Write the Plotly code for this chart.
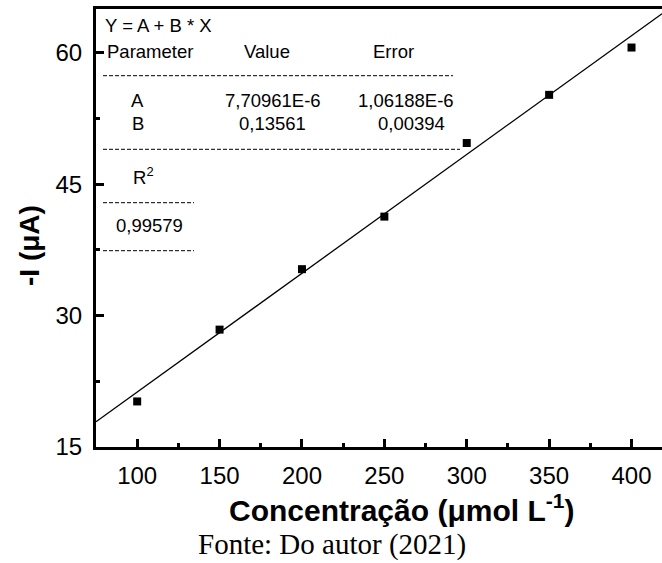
import numpy as np
import plotly.graph_objects as go

# Measured current vs. concentration
concentration = [100, 150, 200, 250, 300, 350, 400]
current = [20.2, 28.4, 35.3, 41.3, 49.7, 55.2, 60.6]

# Linear fit Y = A + B * X  (A reported in A, plotted in µA)
fit_A = 7.70961e-6
fit_B = 0.13561
fit_A_err = 1.06188e-6
fit_B_err = 0.00394
r_squared = 0.99579

x_range = [75, 418.5]
y_range = [15, 65]

FIG_W, FIG_H = 662, 563
L, R, T, B = 96, 0, 9, 116
plot_w = FIG_W - L - R
plot_h = FIG_H - T - B


def px(x):
    return (x - L) / plot_w


def py(y):
    return (FIG_H - B - y) / plot_h


def br(v):
    return f"{v:.5f}".replace(".", ",")


def sci(v):
    m, e = f"{v:.5E}".split("E")
    return f"{m.replace('.', ',')}E{int(e)}"


fit_x = np.linspace(x_range[0], x_range[1], 50)
fit_y = fit_A * 1e6 + fit_B * fit_x

fig = go.Figure()
fig.add_trace(go.Scatter(x=fit_x, y=fit_y, mode="lines",
                         line=dict(color="black", width=1.3),
                         showlegend=False, hoverinfo="skip"))
fig.add_trace(go.Scatter(x=concentration, y=current, mode="markers",
                         marker=dict(symbol="square", size=8, color="black"),
                         showlegend=False))

FONT = "Liberation Sans, Arial, sans-serif"
TFS = 18.5

# Fit parameter table drawn inside the plot
table_text = [
    ("Y = A + B * X", 103, 26, "left"),
    ("Parameter", 150, 51, "center"),
    ("Value", 267, 51, "center"),
    ("Error", 393, 51, "center"),
    ("A", 137.5, 100.5, "center"),
    (sci(fit_A), 272.5, 100.5, "center"),
    (sci(fit_A_err), 405.8, 100.5, "center"),
    ("B", 137.5, 123.3, "center"),
    (br(fit_B), 272.7, 123.3, "center"),
    (br(fit_B_err), 411.7, 123.3, "center"),
    ("R<sup>2</sup>", 131, 176, "left"),
    (br(r_squared), 149.3, 225.7, "center"),
]
annotations = []
for txt, x, y, anchor in table_text:
    annotations.append(dict(text=txt, x=px(x), y=py(y), xref="paper", yref="paper",
                            xanchor=anchor, yanchor="middle", showarrow=False,
                            font=dict(family=FONT, size=TFS, color="black")))

shapes = []
for x0, x1, y in [(103, 453, 75.7), (103, 460, 149.3), (103, 194, 202.7), (103, 194, 250.7)]:
    shapes.append(dict(type="line", xref="paper", yref="paper",
                       x0=px(x0), x1=px(x1), y0=py(y), y1=py(y),
                       line=dict(color="black", width=1, dash="4px,2px")))

# Axis title and source caption
annotations.append(dict(text="<b>Concentração (μmol L<sup>-1</sup>)</b>",
                        x=px(401.5), y=py(508), xref="paper", yref="paper",
                        xanchor="center", yanchor="middle", showarrow=False,
                        font=dict(family=FONT, size=30, color="black")))
annotations.append(dict(text="Fonte: Do autor (2021)",
                        x=px(331.5), y=py(544), xref="paper", yref="paper",
                        xanchor="center", yanchor="middle", showarrow=False,
                        font=dict(family="Liberation Serif, Times New Roman, serif",
                                  size=29, color="black")))
annotations.append(dict(text="<b>-I (μA)</b>",
                        x=px(30), y=py(246), xref="paper", yref="paper",
                        xanchor="center", yanchor="middle", showarrow=False, textangle=-90,
                        font=dict(family=FONT, size=28, color="black")))

fig.update_layout(
    width=FIG_W, height=FIG_H,
    margin=dict(l=L, r=R, t=T, b=B),
    paper_bgcolor="white", plot_bgcolor="white",
    annotations=annotations, shapes=shapes,
    font=dict(family=FONT, color="black"),
)
fig.update_xaxes(range=x_range, tick0=100, dtick=50, ticks="inside", ticklen=8, tickwidth=2.5,
                 tickcolor="black", showline=True, linecolor="black", linewidth=3, mirror=True,
                 showgrid=False, zeroline=False, ticklabelstandoff=5,
                 tickfont=dict(family=FONT, size=24, color="black"),
                 minor=dict(ticks="inside", ticklen=4, tickwidth=2.5, tickcolor="black",
                            tick0=75, dtick=25, showgrid=False))
fig.update_yaxes(range=y_range, tick0=15, dtick=15, ticks="inside", ticklen=8, tickwidth=2.5,
                 tickcolor="black", showline=True, linecolor="black", linewidth=3,
                 showgrid=False, zeroline=False, ticklabelstandoff=6,
                 tickfont=dict(family=FONT, size=24, color="black"),
                 minor=dict(ticks="inside", ticklen=4, tickwidth=2.5, tickcolor="black",
                            tick0=15, dtick=7.5, showgrid=False))

fig.write_html("out.html")
